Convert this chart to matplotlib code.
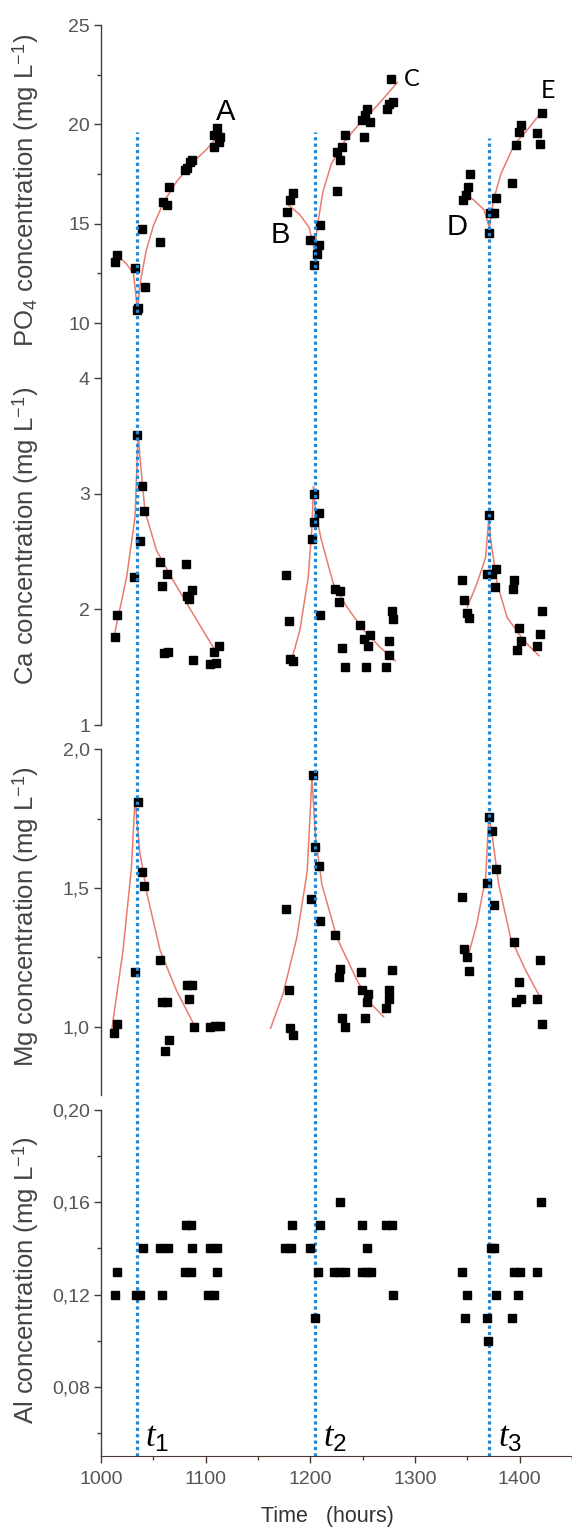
import matplotlib
matplotlib.use("Agg")
import matplotlib.pyplot as plt
from matplotlib.ticker import FixedLocator, FuncFormatter
from matplotlib.transforms import blended_transform_factory

plt.rcParams['font.family'] = ['Liberation Sans', 'DejaVu Sans']
plt.rcParams['mathtext.fontset'] = 'custom'
plt.rcParams['mathtext.rm'] = 'Liberation Sans'
plt.rcParams['mathtext.it'] = 'Liberation Serif:italic'

# measured concentrations (time in hours)
po4_t = [1013.4, 1015, 1032.5, 1039, 1034, 1035.5, 1042, 1056.5, 1059.6, 1062.7, 1065.4, 1080.7, 1082, 1085,
         1086.6, 1107.5, 1107.5, 1110.7, 1112.3, 1114,
         1177.6, 1180.9, 1183, 1200, 1208, 1206.4, 1203.2, 1209.6, 1225.4, 1228.7, 1225.4, 1230.2, 1233.5,
         1251, 1249.4, 1254.2, 1257.4, 1252.6, 1273.3, 1274.9, 1279, 1277.1,
         1345.5, 1348.4, 1351, 1352.6, 1371.6, 1375.4, 1370.6, 1377, 1393, 1396.2, 1399.4, 1401, 1417,
         1419.5, 1421.8]
po4_v = [13.09, 13.42, 12.77, 14.73, 10.66, 10.75, 11.8, 14.09, 16.1, 15.95, 16.83, 17.7, 17.79, 18.12,
         18.2, 18.88, 19.45, 19.8, 19.1, 19.35,
         15.6, 16.19, 16.53, 14.18, 13.93, 13.5, 12.92, 14.93, 16.66, 18.2, 18.62, 18.88, 19.46,
         19.38, 20.22, 20.8, 20.13, 20.47, 20.8, 21.05, 21.14, 22.27,
         16.2, 16.44, 16.86, 17.48, 15.52, 15.52, 14.52, 16.28, 17.06, 18.96, 19.63, 19.97, 19.55,
         19.01, 20.59]

ca_t = [1013.4, 1015, 1031.6, 1034.2, 1038.8, 1041, 1037.3, 1056.5, 1062.9, 1058.7, 1060.3, 1064, 1081.3,
        1086.8, 1082.6, 1084.5, 1088.3, 1104.3, 1110, 1107.5, 1112.9,
        1176.6, 1179.3, 1180.9, 1183, 1203.2, 1208, 1203.8, 1201.6, 1208.9, 1223.9, 1228.7, 1227.1, 1230.3,
        1233.5, 1247.8, 1251, 1257.4, 1254.8, 1253.6, 1275, 1275, 1272.7, 1278.1, 1279,
        1345, 1346.7, 1349.3, 1351.5, 1370.6, 1369, 1373.8, 1377, 1376, 1394.6, 1394, 1421.7, 1399.3,
        1401, 1397.2, 1419.4, 1416.3]
ca_v = [1.758, 1.954, 2.283, 3.51, 3.07, 2.85, 2.59, 2.41, 2.31, 2.205, 1.62, 1.63, 2.39,
        2.17, 2.12, 2.09, 1.56, 1.53, 1.535, 1.63, 1.686,
        2.297, 1.902, 1.57, 1.55, 3.0, 2.83, 2.76, 2.61, 1.954, 2.18, 2.16, 2.06, 1.665,
        1.5, 1.865, 1.74, 1.78, 1.686, 1.5, 1.73, 1.61, 1.5, 1.99, 1.92,
        2.25, 2.08, 1.97, 1.93, 2.82, 2.31, 2.305, 2.35, 2.196, 2.25, 2.18, 1.99, 1.84,
        1.73, 1.65, 1.79, 1.68]

mg_t = [1012.4, 1015, 1032.5, 1035.7, 1038.8, 1041.4, 1056.5, 1058, 1062.7, 1061.2, 1065.4, 1081.9,
        1086.7, 1083.6, 1088.9, 1104.3, 1109, 1114,
        1202.5, 1204.8, 1208, 1200.6, 1176.6, 1208.9, 1223.9, 1179.3, 1180.9, 1183, 1228.7, 1227.1,
        1248.4, 1249.4, 1254.8, 1254.2, 1230.2, 1233.5, 1252.6, 1278, 1275, 1275, 1272.7,
        1345, 1346.7, 1349.3, 1351.5, 1370.6, 1373.8, 1377, 1369, 1375.4, 1394.6, 1419.4, 1399.3,
        1401, 1396.2, 1416.3, 1421.7]
mg_v = [0.98, 1.01, 1.198, 1.81, 1.558, 1.507, 1.242, 1.09, 1.09, 0.914, 0.954, 1.152,
        1.152, 1.10, 1.0, 1.0, 1.003, 1.005,
        1.906, 1.646, 1.579, 1.46, 1.426, 1.38, 1.331, 1.132, 0.995, 0.971, 1.21, 1.18,
        1.198, 1.132, 1.12, 1.09, 1.033, 1.001, 1.033, 1.204, 1.132, 1.10, 1.07,
        1.468, 1.279, 1.251, 1.20, 1.757, 1.706, 1.57, 1.517, 1.44, 1.305, 1.24, 1.162,
        1.10, 1.09, 1.10, 1.01]

al_t = [1013, 1033, 1037, 1058, 1102, 1108, 1015, 1080, 1086, 1111, 1040, 1056, 1064, 1087, 1104, 1111,
        1081, 1086,
        1228.7, 1182.5, 1209.6, 1249.4, 1272.7, 1278, 1176, 1181.5, 1199.4, 1254.2, 1206.9, 1223, 1227.1,
        1233.5, 1249.4, 1254.2, 1258, 1279, 1204.1,
        1420, 1372.2, 1375.4, 1344.5, 1394.6, 1400.2, 1416.3, 1349.8, 1377, 1398.4, 1347.4, 1369, 1393,
        1370]
al_v = [0.12, 0.12, 0.12, 0.12, 0.12, 0.12, 0.13, 0.13, 0.13, 0.13, 0.14, 0.14, 0.14, 0.14, 0.14, 0.14,
        0.15, 0.15,
        0.16, 0.15, 0.15, 0.15, 0.15, 0.15, 0.14, 0.14, 0.14, 0.14, 0.13, 0.13, 0.13,
        0.13, 0.13, 0.13, 0.13, 0.12, 0.11,
        0.16, 0.14, 0.14, 0.13, 0.13, 0.13, 0.13, 0.12, 0.12, 0.12, 0.11, 0.11, 0.11,
        0.10]

# fitted curves, one (time, value) pair per branch
po4_fits = [
    ([1013, 1024, 1031, 1034.5], [13.5, 13.0, 12.5, 10.8]),
    ([1035, 1038, 1043, 1050, 1060, 1072, 1085, 1101, 1115], [10.8, 12.2, 13.6, 14.9, 16.1, 17.1, 17.95, 18.75, 19.6]),
    ([1179, 1190, 1199, 1204], [15.95, 15.45, 14.8, 13.6]),
    ([1204, 1207, 1212, 1220, 1232, 1248, 1264, 1283], [13.6, 15.0, 16.6, 18.0, 19.1, 20.1, 20.95, 22.1]),
    ([1345, 1356, 1366, 1371], [16.6, 16.2, 15.7, 14.8]),
    ([1371, 1375, 1382, 1395, 1407, 1422], [14.8, 16.2, 17.5, 19.0, 19.7, 20.7]),
]
ca_fits = [
    ([1013, 1024.5, 1032.5, 1035.5], [1.79, 2.28, 2.8, 3.52]),
    ([1035.5, 1037.5, 1042, 1053, 1069, 1088, 1108], [3.52, 3.29, 2.85, 2.51, 2.25, 1.96, 1.66]),
    ([1182, 1190, 1198, 1201.5, 1203], [1.56, 1.82, 2.28, 2.71, 3.06]),
    ([1203, 1205, 1210, 1222, 1235, 1251, 1267, 1281], [3.06, 2.85, 2.62, 2.22, 2.02, 1.82, 1.67, 1.556]),
    ([1350, 1359, 1367.5, 1370.6], [2.02, 2.22, 2.45, 2.80]),
    ([1370.6, 1372, 1378.6, 1388, 1404, 1418.4], [2.80, 2.62, 2.22, 1.93, 1.73, 1.60]),
]
mg_fits = [
    ([1010, 1021, 1029, 1032.5], [0.983, 1.275, 1.57, 1.82]),
    ([1032.5, 1037, 1044, 1056.5, 1072, 1090], [1.82, 1.63, 1.478, 1.275, 1.132, 1.0]),
    ([1162, 1174, 1187, 1197, 1201.5], [0.995, 1.12, 1.32, 1.56, 1.894]),
    ([1201.5, 1205, 1211, 1225.5, 1244.6, 1257.4, 1270], [1.894, 1.68, 1.513, 1.32, 1.168, 1.085, 1.037]),
    ([1350, 1359, 1367.5, 1370.6], [1.245, 1.37, 1.537, 1.763]),
    ([1370.6, 1374, 1380, 1391.4, 1405.7, 1419.4], [1.763, 1.68, 1.513, 1.32, 1.204, 1.108]),
]

t_events = [1034.5, 1204, 1371]
t_line_tops = [19.6, 19.6, 19.3]
t_names = ['$t_1$', '$t_2$', '$t_3$']

spine_col = '#4a3833'
tick_col = '#555555'
fit_col = '#ea7b6f'
dot_col = '#1f88d8'

fig = plt.figure(figsize=(5.72, 15.29), dpi=100)
left, width = 0.1766, 0.8234
ax_po4 = fig.add_axes([left, 0.7534, width, 0.2302])
ax_ca = fig.add_axes([left, 0.5258, width, 0.2269])
ax_mg = fig.add_axes([left, 0.2838, width, 0.2263])
ax_al = fig.add_axes([left, 0.0477, width, 0.2263])

comma = FuncFormatter(lambda v, p: f"{v:.1f}".replace('.', ','))
comma2 = FuncFormatter(lambda v, p: f"{v:.2f}".replace('.', ','))

panels = [
    (ax_po4, po4_t, po4_v, po4_fits, (7.28, 25), [10, 15, 20, 25], [12.5, 17.5, 22.5], None,
     'PO$_4$ concentration (mg L$^{-1}$)', 0.53),
    (ax_ca, ca_t, ca_v, ca_fits, (1, 4), [1, 2, 3, 4], [], None,
     'Ca concentration (mg L$^{-1}$)', 0.545),
    (ax_mg, mg_t, mg_v, mg_fits, (0.755, 2.0), [1.0, 1.5, 2.0], [1.25, 1.75], comma,
     'Mg concentration (mg L$^{-1}$)', 0.515),
    (ax_al, al_t, al_v, [], (0.05, 0.20), [0.08, 0.12, 0.16, 0.20], [0.06, 0.10, 0.14, 0.18], comma2,
     'Al concentration (mg L$^{-1}$)', 0.51),
]

for ax, ts, vs, fits, ylim, major, minor, fmt, label, label_y in panels:
    ax.set_xlim(1000, 1450)
    ax.set_ylim(*ylim)
    ax.patch.set_alpha(0)
    for side in ['top', 'right', 'bottom']:
        ax.spines[side].set_visible(False)
    ax.spines['left'].set_color(spine_col)
    ax.spines['left'].set_linewidth(1.0)
    for tt, vv in fits:
        ax.plot(tt, vv, color=fit_col, lw=1.1, zorder=2)
    ax.plot(ts, vs, 's', color='black', ms=5.5, zorder=3)
    ax.yaxis.set_major_locator(FixedLocator(major))
    ax.yaxis.set_minor_locator(FixedLocator(minor))
    if fmt is not None:
        ax.yaxis.set_major_formatter(fmt)
    ax.tick_params(axis='y', which='major', length=5, width=1, color=spine_col,
                   labelsize=14, labelcolor=tick_col, pad=3)
    ax.tick_params(axis='y', which='minor', length=3, width=1, color=spine_col)
    ax.set_ylabel(label, fontsize=18.5, color='#444444')
    ax.yaxis.set_label_coords(-0.128, label_y)
    if ax is not ax_al:
        ax.tick_params(axis='x', which='both', bottom=False, labelbottom=False)

ax_al.spines['bottom'].set_visible(True)
ax_al.spines['bottom'].set_color(spine_col)
ax_al.xaxis.set_major_locator(FixedLocator([1000, 1100, 1200, 1300, 1400]))
ax_al.xaxis.set_minor_locator(FixedLocator([1050, 1150, 1250, 1350, 1450]))
ax_al.tick_params(axis='x', which='major', length=5, width=1, color=spine_col,
                  labelsize=14, labelcolor=tick_col, pad=6)
ax_al.tick_params(axis='x', which='minor', length=3, width=1, color=spine_col)
ax_al.set_xlabel('Time   (hours)', fontsize=15.5, color='#333333')
ax_al.xaxis.set_label_coords(0.48, -0.145)

# event lines running from the PO4 panel down to the time axis
inv = fig.transFigure.inverted()
trans = blended_transform_factory(ax_al.transData, fig.transFigure)
y_bottom = inv.transform(ax_al.transAxes.transform((0, 0)))[1]
for te, top, name in zip(t_events, t_line_tops, t_names):
    y_top = inv.transform(ax_po4.transData.transform((te, top)))[1]
    ax_al.plot([te, te], [y_bottom, y_top], transform=trans, clip_on=False,
               color=dot_col, lw=2.3, ls=(0, (1, 1)), zorder=1)
    ax_al.text(te + 8, 0.0508, name, fontsize=25, color='black', ha='left', va='bottom')

# curve labels
ax_po4.text(1118.7, 20.62, 'A', fontsize=21, ha='center', va='center')
ax_po4.text(1171.3, 14.43, 'B', fontsize=21, ha='center', va='center')
ax_po4.text(1297, 22.27, 'C', fontsize=17, ha='center', va='center', family=['Lato', 'DejaVu Sans'])
ax_po4.text(1340.4, 14.83, 'D', fontsize=21, ha='center', va='center')
ax_po4.text(1426.8, 21.73, 'E', fontsize=18, ha='center', va='center', family=['Lato', 'DejaVu Sans'])

fig.savefig('out.png', dpi=100, facecolor='white')
